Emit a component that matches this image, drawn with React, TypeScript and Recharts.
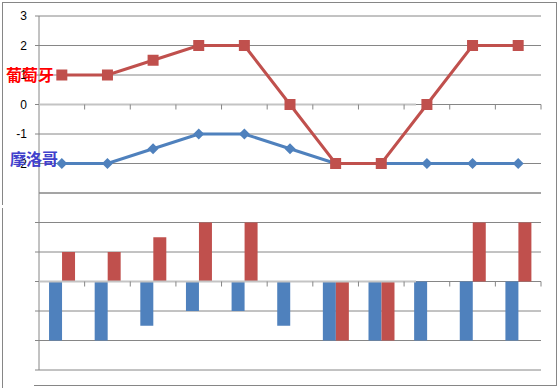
import React from 'react';
import { ComposedChart, Line, Bar, XAxis, YAxis, CartesianGrid } from 'recharts';

const categories = ['1', '2', '3', '4', '5', '6', '7', '8', '9', '10', '11'];
const portugal = [1, 1, 1.5, 2, 2, 0, -2, -2, 0, 2, 2];
const morocco = [-2, -2, -1.5, -1, -1, -1.5, -2, -2, -2, -2, -2];
const topTicks = [-3, -2, -1, 0, 1, 2, 3];
const bottomTicks = [-3, -2, -1, 0, 1, 2];
// category boundaries, where the zero axis carries its small ticks
const boundaryTicks = categories.map((_, i) => i + 1);

const RED = '#C0504D';
const BLUE = '#4F81BD';
const GRID = '#868686';
const ZERO = '#C4C4C4';

const data = categories.map((cat, i) => ({ cat, portugal: portugal[i], morocco: morocco[i] }));
const zeroData = boundaryTicks.map((b) => ({ b, v: 0 }));

const SquareDot = (props: any) => {
  const { cx, cy, index } = props;
  if (cx == null || cy == null) return null;
  return <rect key={`sq-${index}`} x={cx - 5.5} y={cy - 5.5} width={11} height={11} fill={RED} />;
};

const DiamondDot = (props: any) => {
  const { cx, cy, index } = props;
  if (cx == null || cy == null) return null;
  const r = 5.5;
  return (
    <polygon
      key={`dm-${index}`}
      points={`${cx},${cy - r} ${cx + r},${cy} ${cx},${cy + r} ${cx - r},${cy}`}
      fill={BLUE}
    />
  );
};

// overlay that puts an axis exactly on the zero line of a panel
function ZeroAxis({ top, plotTop }: { top: number; plotTop: number }) {
  const height = plotTop + 88.5 + 16;
  return (
    <>
      <div style={{ position: 'absolute', left: 0, top }}>
        <ComposedChart width={560} height={height} data={zeroData} margin={{ top: plotTop, right: 144, bottom: 0, left: 39 }}>
          <XAxis
            dataKey="b"
            type="number"
            domain={[0, 8.25]}
            allowDataOverflow
            ticks={[1]}
            height={16}
            tick={false}
            tickLine={false}
            axisLine={{ stroke: ZERO, strokeWidth: 2 }}
          />
          <YAxis hide domain={[-3, 0]} />
          <Line dataKey="v" stroke="none" dot={false} isAnimationActive={false} />
        </ComposedChart>
      </div>
      <div style={{ position: 'absolute', left: 0, top }}>
        <ComposedChart width={560} height={height} data={zeroData} margin={{ top: plotTop, right: 19, bottom: 0, left: 39 }}>
          <XAxis
            dataKey="b"
            type="number"
            domain={[0, categories.length]}
            ticks={boundaryTicks}
            interval={0}
            allowDataOverflow
            height={16}
            tickSize={5}
            stroke={GRID}
            axisLine={false}
            tick={{ fontSize: 1, fill: 'none' }}
          />
          <YAxis hide domain={[-3, 0]} />
          <Line dataKey="v" stroke="none" dot={false} isAnimationActive={false} />
        </ComposedChart>
      </div>
    </>
  );
}

const lineStyle: React.CSSProperties = { position: 'absolute', background: GRID };

export default function App() {
  return (
    <div style={{ position: 'absolute', left: 0, top: 0, width: 560, height: 388, background: '#fff' }}>
      {/* frame */}
      <div style={{ ...lineStyle, left: 2, top: 2, width: 555, height: 1 }} />
      <div style={{ ...lineStyle, left: 2, top: 2, width: 1, height: 203 }} />
      <div style={{ ...lineStyle, left: 2, top: 208, width: 1, height: 180 }} />
      <div style={{ ...lineStyle, left: 556, top: 2, width: 1, height: 384 }} />
      <div style={{ ...lineStyle, left: 34, top: 385, width: 523, height: 1 }} />

      <div style={{ position: 'absolute', left: 0, top: 180 }}>
        <ComposedChart
          width={560}
          height={200}
          data={data}
          margin={{ top: 13, right: 19, bottom: 10, left: 0 }}
          barCategoryGap="22%"
          barGap={0}
        >
          <CartesianGrid vertical={false} stroke={GRID} />
          <XAxis dataKey="cat" hide />
          <YAxis
            domain={[-3, 3]}
            ticks={bottomTicks}
            width={39}
            tickSize={4}
            stroke={GRID}
            tickFormatter={() => ''}
          />
          <Bar dataKey="morocco" fill={BLUE} isAnimationActive={false} />
          <Bar dataKey="portugal" fill={RED} isAnimationActive={false} />
        </ComposedChart>
      </div>
      <ZeroAxis top={180} plotTop={13} />

      <div style={{ position: 'absolute', left: 0, top: 0 }}>
        <ComposedChart width={560} height={200} data={data} margin={{ top: 16, right: 19, bottom: 7, left: 0 }}>
          <CartesianGrid vertical={false} stroke={GRID} />
          <XAxis dataKey="cat" scale="band" hide />
          <YAxis
            domain={[-3, 3]}
            ticks={topTicks}
            width={39}
            tickSize={4}
            tickMargin={8}
            stroke={GRID}
            tick={{ fill: '#000', fontSize: 12, fontFamily: 'Liberation Sans, Arial, sans-serif' }}
          />
          <Line dataKey="morocco" stroke="none" dot={false} isAnimationActive={false} />
        </ComposedChart>
      </div>
      <ZeroAxis top={0} plotTop={16} />
      <div style={{ position: 'absolute', left: 0, top: 0 }}>
        <ComposedChart width={560} height={200} data={data} margin={{ top: 16, right: 19, bottom: 7, left: 39 }}>
          <XAxis dataKey="cat" scale="band" hide />
          <YAxis hide domain={[-3, 3]} />
          <Line dataKey="morocco" stroke={BLUE} strokeWidth={3} dot={DiamondDot} isAnimationActive={false} />
          <Line dataKey="portugal" stroke={RED} strokeWidth={3} dot={SquareDot} isAnimationActive={false} />
        </ComposedChart>
      </div>

      <div
        style={{
          position: 'absolute', left: 6, top: 64, fontSize: 16, lineHeight: '20px', fontWeight: 700,
          color: '#FF0000', fontFamily: 'Noto Sans CJK SC, sans-serif',
        }}
      >
        葡萄牙
      </div>
      <div
        style={{
          position: 'absolute', left: 10, top: 148, fontSize: 16, lineHeight: '20px', fontWeight: 700,
          color: '#4040CC', fontFamily: 'Noto Sans CJK SC, sans-serif',
        }}
      >
        摩洛哥
      </div>
    </div>
  );
}
